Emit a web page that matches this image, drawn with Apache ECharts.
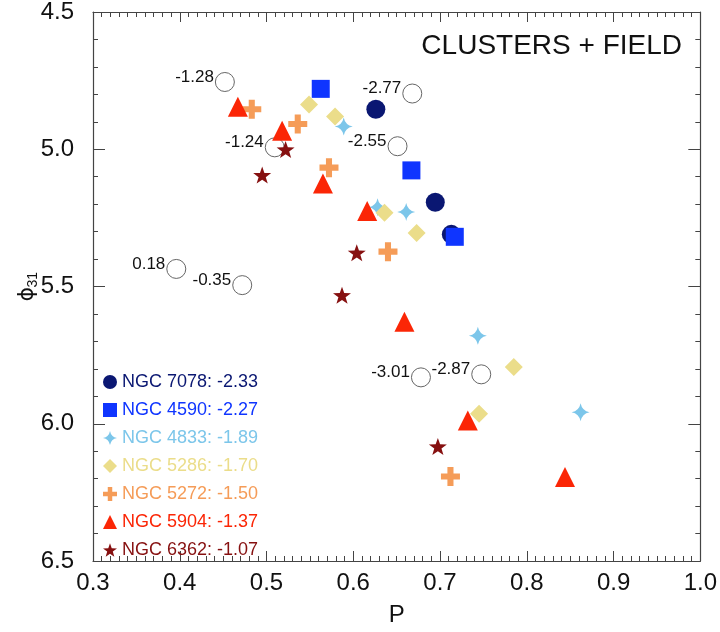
<!DOCTYPE html>
<html>
<head>
<meta charset="utf-8">
<script src="https://cdn.jsdelivr.net/npm/echarts@6/dist/echarts.min.js"></script>
<style>
  html, body { margin: 0; padding: 0; background: #fff; }
  #chart { width: 720px; height: 632px; }
</style>
</head>
<body>
<div id="chart"></div>
<script>
// field stars (open circles) with their [Fe/H] labels
const fieldP = [0.452, 0.668, 0.5095, 0.651, 0.396, 0.472, 0.678, 0.7475];
const fieldPhi = [4.755, 4.797, 4.993, 4.989, 5.436, 5.495, 5.831, 5.82];
const fieldFeH = ['-1.28', '-2.77', '-1.24', '-2.55', '0.18', '-0.35', '-3.01', '-2.87'];

// clusters
const p7078 = [0.626, 0.6945, 0.713];
const phi7078 = [4.854, 5.193, 5.31];
const p4590 = [0.5625, 0.667, 0.717];
const phi4590 = [4.78, 5.077, 5.319];
const p4833 = [0.589, 0.628, 0.661, 0.7436, 0.862];
const phi4833 = [4.917, 5.211, 5.229, 5.679, 5.958];
const p5286 = [0.549, 0.579, 0.636, 0.673, 0.785, 0.745];
const phi5286 = [4.837, 4.881, 5.231, 5.305, 5.793, 5.964];
const p5272 = [0.483, 0.536, 0.572, 0.64, 0.712];
const phi5272 = [4.854, 4.908, 5.067, 5.373, 6.192];
const p5904 = [0.467, 0.518, 0.565, 0.616, 0.659, 0.732, 0.844];
const phi5904 = [4.845, 4.933, 5.125, 5.225, 5.628, 5.988, 6.194];
const p6362 = [0.522, 0.495, 0.604, 0.587, 0.6975];
const phi6362 = [5.001, 5.094, 5.377, 5.532, 6.083];

const STAR4 = 'path://M0,-10 Q1.6,-1.6 10,0 Q1.6,1.6 0,10 Q-1.6,1.6 -10,0 Q-1.6,-1.6 0,-10Z';
const PLUS = 'path://M-3.2,-10 H3.2 V-3.2 H10 V3.2 H3.2 V10 H-3.2 V3.2 H-10 V-3.2 H-3.2 Z';
const STAR5 = 'path://M0,-10 L2.35,-3.24 L9.51,-3.09 L3.8,1.24 L5.88,8.09 L0,4 L-5.88,8.09 L-3.8,1.24 L-9.51,-3.09 L-2.35,-3.24 Z';

const zip = (xs, ys) => xs.map((x, i) => [x, ys[i]]);

const clusters = [
  { name: 'NGC 7078: -2.33', p: p7078, phi: phi7078, color: '#0a1772', symbol: 'circle', size: 19 },
  { name: 'NGC 4590: -2.27', p: p4590, phi: phi4590, color: '#0f35ff', symbol: 'rect', size: 18 },
  { name: 'NGC 4833: -1.89', p: p4833, phi: phi4833, color: '#7cc6ea', symbol: STAR4, size: 18 },
  { name: 'NGC 5286: -1.70', p: p5286, phi: phi5286, color: '#ebdd8a', symbol: 'diamond', size: 18 },
  { name: 'NGC 5272: -1.50', p: p5272, phi: phi5272, color: '#f59c58', symbol: PLUS, size: 19 },
  { name: 'NGC 5904: -1.37', p: p5904, phi: phi5904, color: '#fb2606', symbol: 'triangle', size: 20 },
  { name: 'NGC 6362: -1.07', p: p6362, phi: phi6362, color: '#861010', symbol: STAR5, size: 18 },
];

const axisColor = '#444';
const fontFam = '"Liberation Sans", Arial, sans-serif';

const makeX = (pos, showLabel) => ({
  type: 'value', position: pos, min: 0.3, max: 1.0, interval: 0.1,
  axisLine: { show: true, onZero: false, lineStyle: { color: axisColor, width: 1.2 } },
  axisTick: { show: true, inside: true, length: 10, lineStyle: { color: axisColor } },
  minorTick: { show: true, splitNumber: 10, length: 5, lineStyle: { color: axisColor } },
  splitLine: { show: false },
  axisLabel: {
    show: showLabel, margin: 10, color: '#111', fontSize: 24, fontFamily: fontFam,
    formatter: (v) => v.toFixed(1),
  },
  name: showLabel ? 'P' : '',
  nameLocation: 'middle', nameGap: 42,
  nameTextStyle: { color: '#111', fontSize: 24, fontFamily: fontFam },
});

const makeY = (pos, showLabel) => ({
  type: 'value', position: pos, min: 4.5, max: 6.5, interval: 0.5, inverse: true,
  axisLine: { show: true, onZero: false, lineStyle: { color: axisColor, width: 1.2 } },
  axisTick: { show: true, inside: true, length: 12, lineStyle: { color: axisColor } },
  minorTick: { show: true, splitNumber: 5, length: 5, lineStyle: { color: axisColor } },
  splitLine: { show: false },
  axisLabel: {
    show: showLabel, margin: 19, color: '#111', fontSize: 24, fontFamily: fontFam,
    formatter: (v) => v.toFixed(1),
  },
});

const series = [{
  type: 'scatter',
  name: 'field',
  symbol: 'circle',
  symbolSize: 19,
  itemStyle: { color: '#fff', borderColor: '#666', borderWidth: 1, opacity: 1 },
  label: {
    show: true, position: 'left', distance: 1, offset: [0, -5],
    color: '#111', fontSize: 17, fontFamily: fontFam,
    formatter: (p) => p.name,
  },
  data: fieldP.map((x, i) => ({ name: fieldFeH[i], value: [x, fieldPhi[i]] })),
  z: 1,
}];

clusters.forEach((c, i) => {
  series.push({
    type: 'scatter',
    name: c.name,
    symbol: c.symbol,
    symbolSize: c.size,
    symbolKeepAspect: true,
    itemStyle: { color: c.color, opacity: 1 },
    data: zip(c.p, c.phi),
    z: 2 + i,
  });
});

const chart = echarts.init(document.getElementById('chart'));
chart.setOption({
  animation: false,
  backgroundColor: '#fff',
  grid: { left: 93, top: 9, right: 19, bottom: 67 },
  title: {
    text: 'CLUSTERS + FIELD',
    right: 33, top: 27,
    textStyle: { color: '#111', fontSize: 28, fontWeight: 'normal', fontFamily: fontFam },
  },
  legend: {
    orient: 'vertical',
    left: 103, top: 373,
    itemWidth: 14, itemHeight: 14, itemGap: 10, padding: 0,
    textStyle: { fontSize: 18, fontFamily: fontFam },
    data: clusters.map((c) => ({ name: c.name, icon: c.symbol, textStyle: { color: c.color } })),
    selectedMode: false,
  },
  xAxis: [makeX('bottom', true), makeX('top', false)],
  yAxis: [makeY('left', true), makeY('right', false)],
  graphic: [{
    type: 'group',
    left: 16, top: 272,
    rotation: Math.PI / 2,
    children: [
      { type: 'text', x: 0, y: 0, style: { text: 'ϕ', fill: '#111', font: '22px "DejaVu Sans"' } },
      { type: 'text', x: 14, y: 10, style: { text: '31', fill: '#111', font: '14px "Liberation Sans"' } },
    ],
  }],
  series,
});
</script>
</body>
</html>
